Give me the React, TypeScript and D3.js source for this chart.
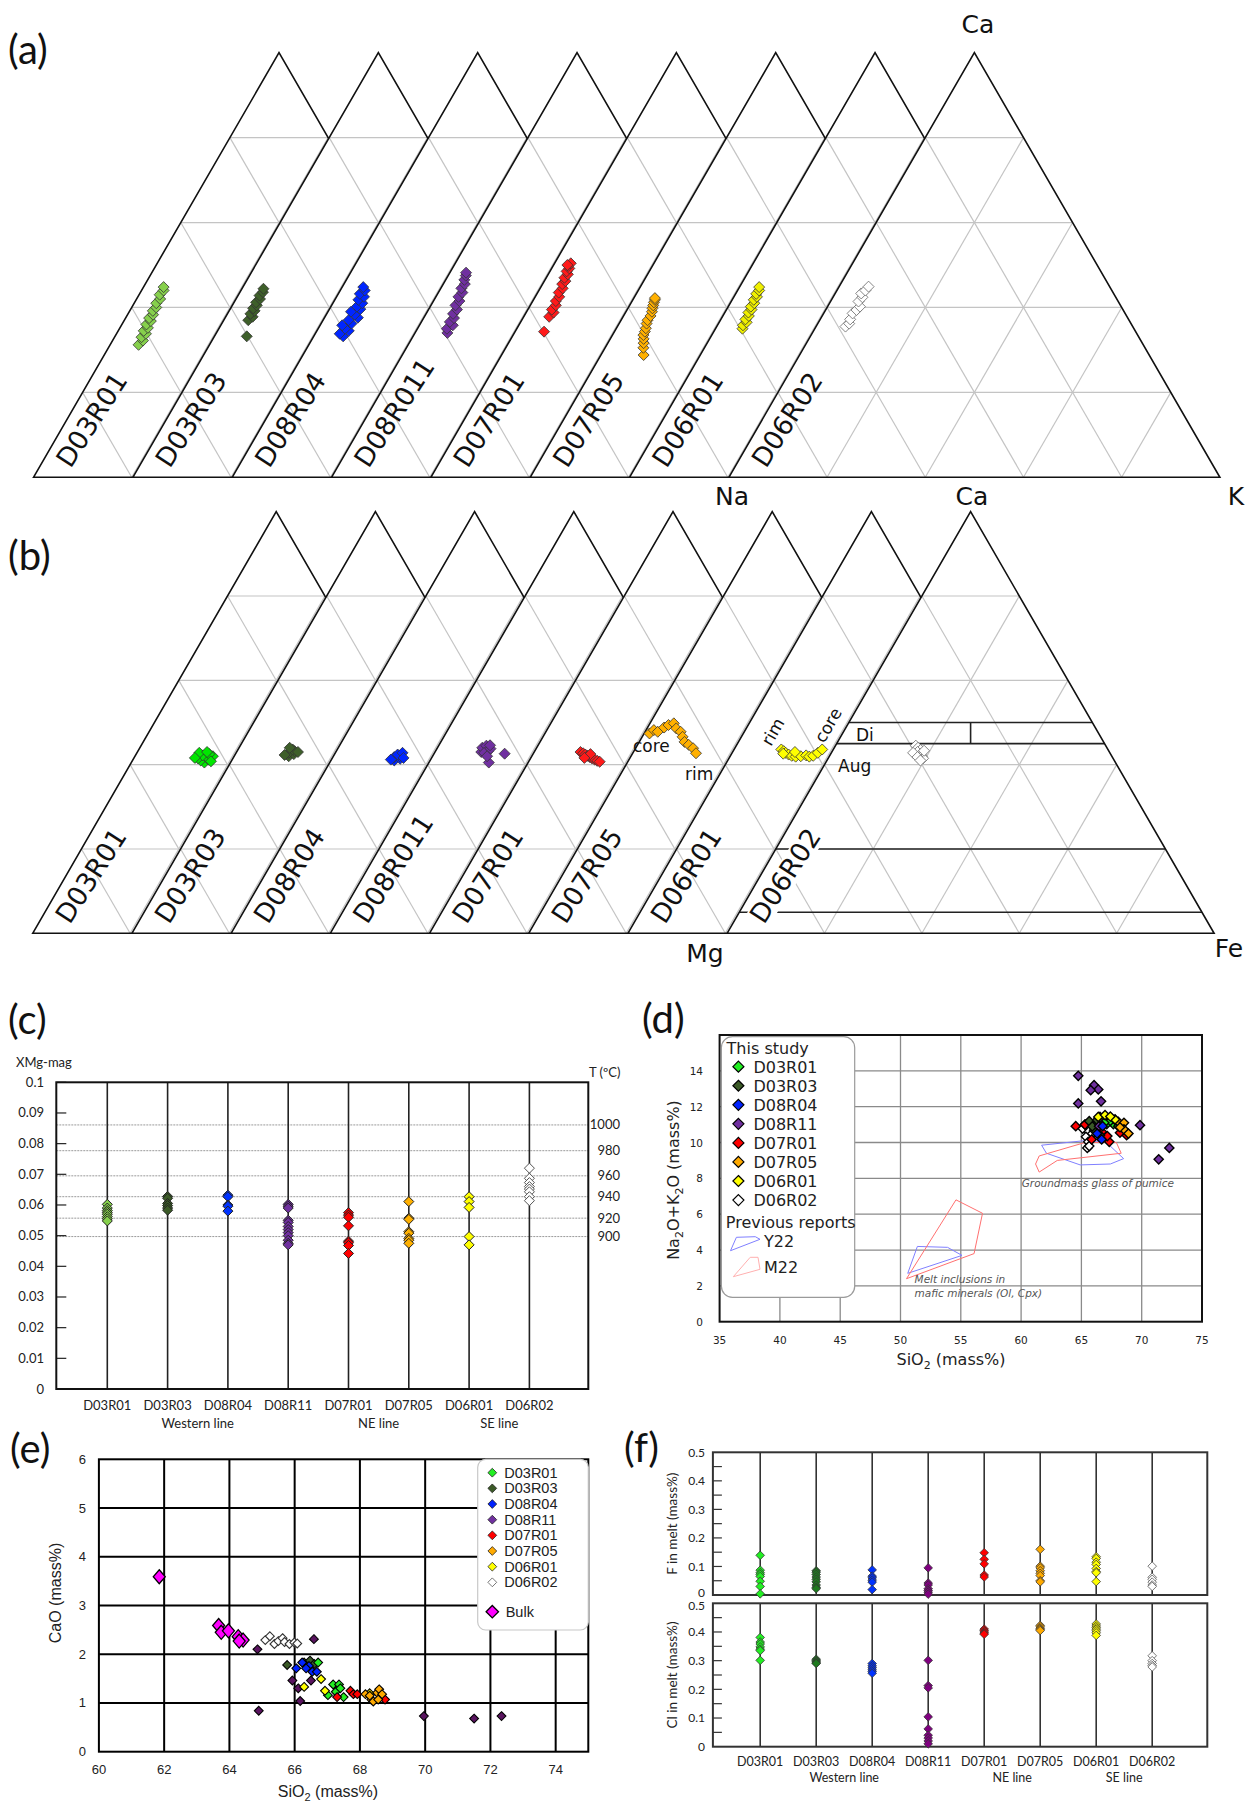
import React from "react";
import * as d3 from "d3";

const W = 1248;
const H = 1803;

// ---------- sample names ----------
const ternaryNames = ["D03R01", "D03R03", "D08R04", "D08R011", "D07R01", "D07R05", "D06R01", "D06R02"];
const stripNames = ["D03R01", "D03R03", "D08R04", "D08R11", "D07R01", "D07R05", "D06R01", "D06R02"];
const groupLabels = ["Western line", "NE line", "SE line"];
const groupBetween = [["D03R03", "D08R04"], ["D07R01", "D07R05"], ["D06R01", "D06R02"]];

// ---------- (a) plagioclase [An, Or] ----------
const plD03R01 = [[0.312, 0.058], [0.322, 0.062], [0.33, 0.055], [0.338, 0.06], [0.345, 0.052], [0.352, 0.057], [0.36, 0.05], [0.368, 0.055], [0.375, 0.048], [0.383, 0.052], [0.392, 0.047], [0.4, 0.05], [0.41, 0.045], [0.42, 0.048], [0.43, 0.042], [0.44, 0.045], [0.448, 0.041]];
const plD03R03 = [[0.332, 0.066], [0.37, 0.05], [0.378, 0.055], [0.385, 0.047], [0.392, 0.052], [0.398, 0.046], [0.405, 0.05], [0.412, 0.045], [0.42, 0.049], [0.428, 0.044], [0.436, 0.047], [0.444, 0.044]];
const plD08R04 = [[0.332, 0.06], [0.338, 0.05], [0.345, 0.065], [0.35, 0.055], [0.358, 0.045], [0.362, 0.062], [0.37, 0.052], [0.376, 0.068], [0.383, 0.058], [0.39, 0.047], [0.396, 0.063], [0.402, 0.053], [0.41, 0.06], [0.418, 0.048], [0.425, 0.056], [0.432, 0.044], [0.44, 0.05], [0.448, 0.043]];
const plD08R11 = [[0.34, 0.066], [0.35, 0.06], [0.358, 0.068], [0.366, 0.058], [0.375, 0.062], [0.385, 0.055], [0.395, 0.058], [0.405, 0.05], [0.415, 0.053], [0.425, 0.046], [0.435, 0.049], [0.445, 0.042], [0.455, 0.044], [0.465, 0.038], [0.475, 0.036], [0.482, 0.033]];
const plD07R01 = [[0.343, 0.059], [0.378, 0.052], [0.388, 0.056], [0.395, 0.049], [0.405, 0.052], [0.415, 0.047], [0.425, 0.049], [0.435, 0.043], [0.445, 0.046], [0.455, 0.04], [0.462, 0.043], [0.47, 0.037], [0.478, 0.04], [0.485, 0.034], [0.492, 0.036], [0.498, 0.031], [0.504, 0.033], [0.5, 0.028]];
const plD07R05 = [[0.288, 0.087], [0.305, 0.078], [0.316, 0.073], [0.326, 0.068], [0.335, 0.063], [0.343, 0.062], [0.351, 0.06], [0.362, 0.056], [0.37, 0.054], [0.38, 0.055], [0.39, 0.053], [0.398, 0.05], [0.405, 0.048], [0.412, 0.046], [0.418, 0.045], [0.422, 0.043]];
const plD06R01 = [[0.35, 0.055], [0.358, 0.052], [0.365, 0.056], [0.372, 0.05], [0.38, 0.053], [0.388, 0.048], [0.395, 0.051], [0.402, 0.046], [0.41, 0.049], [0.418, 0.044], [0.425, 0.047], [0.432, 0.042], [0.44, 0.044], [0.448, 0.04]];
const plD06R02 = [[0.355, 0.06], [0.362, 0.064], [0.372, 0.061], [0.386, 0.059], [0.394, 0.063], [0.402, 0.066], [0.414, 0.057], [0.424, 0.06], [0.433, 0.053], [0.44, 0.058], [0.449, 0.06]];

// ---------- (b) pyroxene [Wo, Fs] ----------
const pxD03R01 = [[0.405, 0.15], [0.41, 0.14], [0.412, 0.155], [0.415, 0.132], [0.418, 0.148], [0.42, 0.16], [0.422, 0.138], [0.425, 0.15], [0.428, 0.128], [0.43, 0.143], [0.408, 0.162], [0.416, 0.125]];
const pxD03R03 = [[0.42, 0.112], [0.425, 0.12], [0.428, 0.108], [0.432, 0.118], [0.436, 0.112], [0.44, 0.104], [0.43, 0.126], [0.423, 0.102]];
const pxD08R04 = [[0.41, 0.13], [0.414, 0.14], [0.418, 0.126], [0.42, 0.136], [0.424, 0.13], [0.428, 0.138], [0.416, 0.146], [0.412, 0.122]];
const pxD08R11 = [[0.43, 0.095], [0.436, 0.1], [0.44, 0.092], [0.445, 0.098], [0.432, 0.108], [0.428, 0.102], [0.438, 0.11], [0.446, 0.105], [0.426, 0.145], [0.405, 0.123], [0.42, 0.112]];
const pxD07R01 = [[0.43, 0.095], [0.427, 0.102], [0.424, 0.108], [0.421, 0.114], [0.418, 0.12], [0.415, 0.126], [0.412, 0.133], [0.409, 0.14], [0.407, 0.146], [0.425, 0.118], [0.416, 0.11]];
const pxD07R05 = [[0.474, 0.011], [0.482, 0.016], [0.478, 0.026], [0.488, 0.034], [0.494, 0.04], [0.498, 0.049], [0.486, 0.06], [0.478, 0.073], [0.466, 0.083], [0.454, 0.093], [0.447, 0.105], [0.439, 0.118], [0.427, 0.13]];
const pxD06R01 = [[0.436, 0.097], [0.432, 0.104], [0.428, 0.11], [0.424, 0.118], [0.421, 0.126], [0.419, 0.135], [0.42, 0.145], [0.422, 0.155], [0.419, 0.163], [0.421, 0.17], [0.428, 0.176], [0.436, 0.181], [0.426, 0.106], [0.43, 0.128]];
const pxD06R02 = [[0.445, 0.165], [0.44, 0.172], [0.435, 0.18], [0.43, 0.176], [0.425, 0.185], [0.42, 0.19], [0.415, 0.195], [0.428, 0.168], [0.433, 0.188], [0.418, 0.182], [0.41, 0.192]];
const wollastoniteLines = [0.5, 0.45, 0.2, 0.05];

// ---------- (c) XMg of magnetite ----------
const cD03R01 = [0.0602, 0.059, 0.0582, 0.0576, 0.057, 0.0562, 0.0555, 0.0548];
const cD03R03 = [0.0628, 0.0622, 0.0605, 0.0598, 0.059, 0.0583];
const cD08R04 = [0.0632, 0.0627, 0.06, 0.0596, 0.058];
const cD08R11 = [0.0602, 0.0596, 0.059, 0.055, 0.0543, 0.053, 0.052, 0.051, 0.05, 0.0485, 0.0475, 0.047];
const cD07R01 = [0.0575, 0.0567, 0.056, 0.0532, 0.0482, 0.0477, 0.0468, 0.0442];
const cD07R05 = [0.0611, 0.0557, 0.0553, 0.0513, 0.0508, 0.0491, 0.0485, 0.0475];
const cD06R01 = [0.0627, 0.0611, 0.0592, 0.0497, 0.047];
const cD06R02 = [0.072, 0.0687, 0.0673, 0.066, 0.0652, 0.0643, 0.0627, 0.0614];
const tempLabels = [1000, 980, 960, 940, 920, 900];
const tempXMg = [0.0861, 0.0777, 0.0695, 0.0627, 0.0557, 0.0497];

// ---------- (d) TAS [SiO2, Na2O+K2O] ----------
const dD03R01 = [[67.23, 11.34], [67.65, 11.03], [67.1, 11.03], [68.06, 10.91], [67.4, 11.2], [67.8, 11.25], [66.9, 11.1]];
const dD03R03 = [[65.65, 11.19], [66.13, 11.0], [66.54, 11.43], [66.05, 10.69], [66.54, 10.41], [65.9, 10.9], [66.3, 11.25], [66.8, 11.2]];
const dD08R04 = [[66.68, 10.17], [66.76, 10.91], [66.3, 10.5]];
const dD08R11 = [[64.74, 13.72], [66.05, 13.2], [66.4, 12.96], [65.77, 12.92], [64.74, 12.18], [66.63, 12.3], [69.86, 10.97], [72.29, 9.7], [71.41, 9.06], [66.46, 10.91]];
const dD07R01 = [[64.53, 10.91], [67.31, 10.04], [67.15, 10.36], [68.75, 10.41], [68.2, 10.55], [65.85, 10.17], [65.3, 11.0], [66.7, 10.6]];
const dD07R05 = [[68.06, 11.15], [68.53, 11.1], [68.53, 10.73], [68.9, 10.5], [68.2, 10.85]];
const dD06R01 = [[66.4, 11.43], [66.96, 11.53], [67.79, 11.29], [67.4, 11.45]];
const dD06R02 = [[65.49, 10.69], [65.38, 10.32], [65.57, 10.04], [65.49, 9.7], [65.65, 9.8], [65.1, 10.78], [65.9, 10.5], [65.3, 11.0]];
const y22Glass = [[61.7, 9.85], [65.2, 10.1], [67.0, 10.05], [68.5, 9.1], [67.4, 8.8], [64.9, 8.75], [62.1, 9.4]];
const m22Glass = [[61.2, 8.8], [61.5, 8.35], [63.0, 9.0], [68.3, 9.4], [67.9, 10.0], [65.3, 10.0], [61.5, 9.25]];
const y22Melt = [[50.6, 2.7], [51.4, 4.2], [53.9, 4.15], [55.1, 3.7]];
const m22Melt = [[50.5, 2.4], [54.6, 6.8], [56.8, 6.05], [56.1, 3.8]];

// ---------- (e) CaO vs SiO2 ----------
const eBulk = [[61.85, 3.59], [63.67, 2.59], [63.75, 2.45], [63.97, 2.48], [64.27, 2.36], [64.42, 2.29], [64.3, 2.27]];
const eD06R02 = [[65.1, 2.29], [65.24, 2.37], [65.38, 2.21], [65.5, 2.27], [65.63, 2.33], [65.69, 2.25], [65.84, 2.21], [65.99, 2.24], [66.08, 2.22]];
const eD08R11 = [[64.86, 2.1], [66.59, 2.31], [65.93, 1.46], [66.11, 1.3], [66.5, 1.46], [66.17, 1.04], [64.9, 0.84], [69.96, 0.73], [71.5, 0.68], [72.34, 0.73]];
const eD03R03 = [[65.77, 1.78], [66.29, 1.83], [66.47, 1.87], [66.6, 1.8]];
const eD08R04 = [[66.05, 1.71], [66.23, 1.83], [66.44, 1.76], [66.54, 1.64], [66.68, 1.64], [66.35, 1.71]];
const eD03R01 = [[66.72, 1.83], [67.18, 1.38], [67.36, 1.38], [67.02, 1.16], [67.26, 1.23], [67.5, 1.12], [67.4, 1.3]];
const eD06R01 = [[66.81, 1.49], [66.29, 1.33], [66.93, 1.25], [68.3, 1.2]];
const eD07R01 = [[67.71, 1.25], [67.8, 1.18], [67.92, 1.18], [67.3, 1.12], [68.77, 1.07]];
const eD07R05 = [[68.17, 1.18], [68.35, 1.07], [68.53, 1.21], [68.59, 1.28], [68.68, 1.18], [68.41, 1.03], [68.56, 1.07], [68.3, 1.15]];

// ---------- (f) F and Cl in melt ----------
const fF = [
  [0.139, 0.087, 0.078, 0.072, 0.065, 0.048, 0.03, 0.004],
  [0.085, 0.08, 0.072, 0.063, 0.055, 0.046, 0.035, 0.027, 0.022],
  [0.088, 0.066, 0.06, 0.052, 0.045, 0.019],
  [0.095, 0.042, 0.035, 0.022, 0.016, 0.01, 0.003],
  [0.148, 0.125, 0.109, 0.07, 0.063],
  [0.16, 0.101, 0.095, 0.085, 0.076, 0.068, 0.05, 0.046],
  [0.134, 0.128, 0.115, 0.107, 0.093, 0.082, 0.078, 0.047],
  [0.101, 0.062, 0.055, 0.045, 0.035, 0.03],
];
const fCl = [
  [0.381, 0.365, 0.358, 0.348, 0.34, 0.335, 0.301],
  [0.305, 0.3, 0.296, 0.292, 0.29],
  [0.29, 0.282, 0.275, 0.268, 0.262, 0.256],
  [0.301, 0.213, 0.205, 0.104, 0.062, 0.04, 0.03, 0.02, 0.01],
  [0.41, 0.405, 0.4, 0.396, 0.392],
  [0.423, 0.418, 0.413, 0.409, 0.405],
  [0.428, 0.421, 0.415, 0.41, 0.404, 0.397, 0.388],
  [0.317, 0.3, 0.29, 0.283, 0.278],
];

// ---------- colours ----------
const colA = ["#86d04c", "#3e5f2a", "#0026ff", "#7030a0", "#ff1a1a", "#ffb000", "#f0f000", "#ffffff"];
const colB = ["#00e600", "#3e5f2a", "#0026ff", "#7030a0", "#ff1a1a", "#ffb000", "#ffff00", "#ffffff"];
const colC = ["#86d04c", "#3b5a27", "#0033ff", "#7030a0", "#ff0000", "#ffb000", "#ffff00", "#ffffff"];
const colD = ["#22ee22", "#3b5a27", "#0022ff", "#7030a0", "#ff0000", "#ffaa00", "#ffff00", "#ffffff"];
const colF = ["#22ee22", "#1f7a1f", "#0033ff", "#800080", "#ff0000", "#ffaa00", "#ffff00", "#ffffff"];

const diamond = (r: number, ry: number = r) => `M0,${-ry}L${r},0L0,${ry}L${-r},0Z`;
const pts = (a: number[][]) => a.map((p) => p.join(",")).join(" ");

function Ternary({ top, base, x0, step, side, data, colors, pyx }: any) {
  const ys = d3.scaleLinear().domain([0, 1]).range([base, top]);
  const levels = [0.2, 0.4, 0.6, 0.8];
  return (
    <g>
      {ternaryNames.map((name, k) => {
        const xs = d3.scaleLinear().domain([0, 1]).range([x0 + k * step, x0 + k * step + side]);
        const pt = (c: number, r: number) => [xs(r + c / 2), ys(c)];
        const grid: number[][][] = [];
        levels.forEach((t) => {
          grid.push([pt(t, 0), pt(t, 1 - t)]);
          grid.push([pt(0, t), pt(1 - t, t)]);
          grid.push([pt(0, 1 - t), pt(1 - t, 0)]);
        });
        const last = k === ternaryNames.length - 1;
        return (
          <g key={name}>
            <polygon points={pts([pt(0, 0), pt(1, 0), pt(0, 1)])} fill="#fff" />
            {grid.map((g, i) => (
              <line key={i} x1={g[0][0]} y1={g[0][1]} x2={g[1][0]} y2={g[1][1]} stroke="#c4c4c4" strokeWidth={1.2} />
            ))}
            {pyx && last && (
              <g stroke="#222" strokeWidth={1.6}>
                {wollastoniteLines.map((w) => (
                  <line key={w} x1={pt(w, 0)[0]} y1={ys(w)} x2={pt(w, 1 - w)[0]} y2={ys(w)} />
                ))}
                <line x1={xs(0.5)} x2={xs(0.5)} y1={ys(0.45)} y2={ys(0.5)} />
              </g>
            )}
            <polygon points={pts([pt(0, 0), pt(1, 0), pt(0, 1)])} fill="none" stroke="#111" strokeWidth={1.6} />
            <g transform={`translate(${xs(0) + 37},${base - 8}) rotate(-57)`}>
              {pyx && last && <rect x={-2} y={-21} width={110} height={25} fill="#fff" />}
              <text fontSize={26.5} fill="#111">{name}</text>
            </g>
            {data[k].map((p: number[], i: number) => {
              const [x, y] = pt(p[0], p[1]);
              return (
                <path key={i} transform={`translate(${x},${y})`} d={diamond(5.5)} fill={colors[k]}
                  stroke={last ? "#666" : "#333"} strokeWidth={0.8} />
              );
            })}
          </g>
        );
      })}
    </g>
  );
}

function PanelC() {
  const L = 56.3, R = 588.3, T = 1082.3, B = 1389;
  const x = d3.scalePoint<string>().domain(stripNames).range([107.3, 529.4]);
  const y = d3.scaleLinear().domain([0, 0.1]).range([B, T]);
  const data = [cD03R01, cD03R03, cD08R04, cD08R11, cD07R01, cD07R05, cD06R01, cD06R02];
  const ticks = d3.range(0, 11).map((i) => i / 100);
  return (
    <g fontFamily="Lato" fontSize={13} fill="#222">
      {tempXMg.map((v, i) => (
        <g key={i}>
          <line x1={L} x2={R} y1={y(v)} y2={y(v)} stroke="#9a9a9a" strokeWidth={1} strokeDasharray="2,1" />
          <text x={620} y={y(v) + 4.5} textAnchor="end">{tempLabels[i]}</text>
        </g>
      ))}
      {stripNames.map((n) => (
        <line key={n} x1={x(n)} x2={x(n)} y1={T} y2={B} stroke="#222" strokeWidth={1.6} />
      ))}
      {ticks.map((v) => (
        <g key={v}>
          <line x1={L} x2={L + 10} y1={y(v)} y2={y(v)} stroke="#222" strokeWidth={1.2} />
          <text x={44} y={y(v) + 4.5} textAnchor="end">{v === 0 ? "0" : v === 0.1 ? "0.1" : v.toFixed(2)}</text>
        </g>
      ))}
      <rect x={L} y={T} width={R - L} height={B - T} fill="none" stroke="#111" strokeWidth={2} />
      {data.map((arr, k) =>
        arr.map((v, i) => (
          <path key={k + "-" + i} transform={`translate(${x(stripNames[k])},${y(v)})`} d={diamond(5)}
            fill={colC[k]} stroke={k === 7 ? "#555" : "#222"} strokeWidth={1} />
        ))
      )}
      <text x={16} y={1067}>XMg-mag</text>
      <text x={589} y={1077}>T (ºC)</text>
      {stripNames.map((n) => (
        <text key={n} x={x(n)} y={1410} textAnchor="middle">{n}</text>
      ))}
      {groupLabels.map((g, i) => (
        <text key={g} x={((x(groupBetween[i][0]) as number) + (x(groupBetween[i][1]) as number)) / 2} y={1428} textAnchor="middle">{g}</text>
      ))}
    </g>
  );
}

function PanelD() {
  const L = 719.6, R = 1202, T = 1035, B = 1321.7;
  const x = d3.scaleLinear().domain([35, 75]).range([L, R]);
  const y = d3.scaleLinear().domain([0, 16]).range([B, T]);
  const data = [dD03R01, dD03R03, dD08R04, dD08R11, dD07R01, dD07R05, dD06R01, dD06R02];
  const order = [7, 4, 1, 3, 0, 5, 6, 2];
  const poly = (a: number[][]) => a.map((p) => [x(p[0]), y(p[1])]);
  const legY = d3.range(8).map((i) => 1066.7 + i * 19.05);
  return (
    <g fontFamily="DejaVu Sans" fill="#222">
      {d3.range(40, 75, 5).map((v) => (
        <line key={v} x1={x(v)} x2={x(v)} y1={T} y2={B} stroke="#8a8a8a" strokeWidth={1.3} />
      ))}
      {d3.range(2, 16, 2).map((v) => (
        <line key={v} x1={L} x2={R} y1={y(v)} y2={y(v)} stroke="#8a8a8a" strokeWidth={1.3} />
      ))}
      <polygon points={pts(poly(y22Glass))} fill="none" stroke="#8080ff" strokeWidth={1} />
      <polygon points={pts(poly(m22Glass))} fill="none" stroke="#ff7070" strokeWidth={1} />
      <polygon points={pts(poly(y22Melt))} fill="none" stroke="#8080ff" strokeWidth={1} />
      <polygon points={pts(poly(m22Melt))} fill="none" stroke="#ff7070" strokeWidth={1} />
      <rect x={L} y={T} width={R - L} height={B - T} fill="none" stroke="#111" strokeWidth={2} />
      {order.map((k) =>
        data[k].map((p, i) => (
          <path key={k + "-" + i} transform={`translate(${x(p[0])},${y(p[1])})`} d={diamond(4.6)}
            fill={colD[k]} stroke="#000" strokeWidth={1.4} />
        ))
      )}
      <g fontSize={10.5} fontStyle="italic" fill="#555">
        <text x={1021.7} y={1187}>Groundmass glass of pumice</text>
        <text x={914.6} y={1283}>Melt inclusions in</text>
        <text x={914.6} y={1296.5}>mafic minerals (Ol, Cpx)</text>
      </g>
      {d3.range(35, 80, 5).map((v) => (
        <text key={v} x={x(v)} y={1344} fontSize={10.5} textAnchor="middle">{v}</text>
      ))}
      {d3.range(0, 16, 2).map((v) => (
        <text key={v} x={703} y={y(v) + 4} fontSize={10.5} textAnchor="end">{v}</text>
      ))}
      <text x={951} y={1365} fontSize={16} textAnchor="middle">
        SiO<tspan fontSize={11} dy={4}>2</tspan><tspan dy={-4}> (mass%)</tspan>
      </text>
      <text transform="translate(679,1180) rotate(-90)" fontSize={16} textAnchor="middle">
        Na<tspan fontSize={11} dy={4}>2</tspan><tspan dy={-4}>O+K</tspan><tspan fontSize={11} dy={4}>2</tspan><tspan dy={-4}>O (mass%)</tspan>
      </text>
      <rect x={721.4} y={1036.7} width={133.3} height={260.6} rx={11} fill="#fff" stroke="#9a9a9a" strokeWidth={1.2} />
      <g fontSize={16}>
        <text x={726.6} y={1054}>This study</text>
        {stripNames.map((n, i) => (
          <g key={n}>
            <path transform={`translate(738.4,${legY[i]})`} d={diamond(5.5)} fill={colD[i]} stroke="#000" strokeWidth={1.2} />
            <text x={753.4} y={legY[i] + 6}>{n}</text>
          </g>
        ))}
        <text x={725.8} y={1227.5}>Previous reports</text>
        <polygon points="730.5,1250.7 760,1239.3 755.3,1236.7 736.4,1237.3" fill="none" stroke="#8080ff" strokeWidth={1} />
        <text x={764} y={1247}>Y22</text>
        <polygon points="733.3,1276.7 760,1269.3 758,1257.3 750.2,1257.3" fill="none" stroke="#ffb0b0" strokeWidth={1} />
        <text x={764} y={1273}>M22</text>
      </g>
    </g>
  );
}

function PanelE() {
  const L = 98.9, R = 588.3, T = 1459.3, B = 1751.7;
  const x = d3.scaleLinear().domain([60, 75]).range([L, R]);
  const y = d3.scaleLinear().domain([0, 6]).range([B, T]);
  const series = [eD08R11, eD06R02, eD03R03, eD08R04, eD03R01, eD06R01, eD07R01, eD07R05];
  const seriesCol = ["#5a1460", "#ffffff", "#3b5a27", "#0022ff", "#22ee22", "#ffff00", "#ff0000", "#ffaa00"];
  const legY = d3.range(8).map((i) => 1472.7 + i * 15.66);
  return (
    <g fontFamily="Liberation Sans" fill="#222">
      {d3.range(62, 75, 2).map((v) => (
        <line key={v} x1={x(v)} x2={x(v)} y1={T} y2={B} stroke="#000" strokeWidth={2} />
      ))}
      {d3.range(1, 6).map((v) => (
        <line key={v} x1={L} x2={R} y1={y(v)} y2={y(v)} stroke="#000" strokeWidth={2} />
      ))}
      <rect x={L} y={T} width={R - L} height={B - T} fill="none" stroke="#000" strokeWidth={2} />
      {series.map((arr, k) =>
        arr.map((p, i) => (
          <path key={k + "-" + i} transform={`translate(${x(p[0])},${y(p[1])})`} d={diamond(4.4)}
            fill={seriesCol[k]} stroke={k === 1 ? "#333" : "#000"} strokeWidth={1.1} />
        ))
      )}
      {eBulk.map((p, i) => (
        <path key={"b" + i} transform={`translate(${x(p[0])},${y(p[1])})`} d={diamond(6, 7)}
          fill="#ff00ff" stroke="#000" strokeWidth={1.3} />
      ))}
      {d3.range(60, 76, 2).map((v) => (
        <text key={v} x={x(v)} y={1773.5} fontSize={13} textAnchor="middle">{v}</text>
      ))}
      {d3.range(0, 7).map((v) => (
        <text key={v} x={86} y={y(v) + 4.5} fontSize={13} textAnchor="end">{v}</text>
      ))}
      <text x={328} y={1797} fontSize={16} textAnchor="middle">
        SiO<tspan fontSize={11} dy={4}>2</tspan><tspan dy={-4}> (mass%)</tspan>
      </text>
      <text transform="translate(61,1593) rotate(-90)" fontSize={16} textAnchor="middle">CaO (mass%)</text>
      <rect x={477.7} y={1459.3} width={110.6} height={170.7} rx={8} fill="#fff" stroke="#c8c8c8" strokeWidth={1.2} />
      <g fontSize={14.5}>
        {stripNames.map((n, i) => (
          <g key={n}>
            <path transform={`translate(492.3,${legY[i]})`} d={diamond(4.4)} fill={colD[i]} stroke={i === 7 ? "#555" : "#222"} strokeWidth={0.8} />
            <text x={504.3} y={legY[i] + 5}>{n}</text>
          </g>
        ))}
        <path transform="translate(492.3,1611.7)" d={diamond(6.2)} fill="#ff00ff" stroke="#000" strokeWidth={1.3} />
        <text x={505.7} y={1616.7}>Bulk</text>
      </g>
    </g>
  );
}

function StripPanel({ T, B, data, title, lowShift, highShift }: any) {
  const L = 712.9, R = 1207.3;
  const x = d3.scalePoint<string>().domain(stripNames).range([760.2, 1152.2]);
  const y = d3.scaleLinear().domain([0, 0.5]).range([B, T]);
  return (
    <g>
      {stripNames.map((n) => (
        <line key={n} x1={x(n)} x2={x(n)} y1={T} y2={B} stroke="#333" strokeWidth={1.6} />
      ))}
      {d3.range(1, 10).map((i) => (
        <line key={i} x1={L} x2={L + 9} y1={y(i * 0.05)} y2={y(i * 0.05)} stroke="#333" strokeWidth={1.2} />
      ))}
      {d3.range(0, 6).map((i) => (
        <text key={i} x={705} y={y(i / 10) + 4.2 + (i === 0 ? lowShift : i === 5 ? highShift : 0)} textAnchor="end">
          {i === 0 ? "0" : (i / 10).toFixed(1)}
        </text>
      ))}
      <rect x={L} y={T} width={R - L} height={B - T} fill="none" stroke="#333" strokeWidth={2} />
      {data.map((arr: number[], k: number) =>
        arr.map((v, i) => (
          <path key={k + "-" + i} transform={`translate(${x(stripNames[k])},${y(v)})`} d={diamond(4.3)}
            fill={colF[k]} stroke={k === 7 ? "#555" : "#333"} strokeWidth={0.8} />
        ))
      )}
      <text transform={`translate(677,${(T + B) / 2}) rotate(-90)`} fontSize={13.5} textAnchor="middle">{title}</text>
    </g>
  );
}

function PanelF() {
  const x = d3.scalePoint<string>().domain(stripNames).range([760.2, 1152.2]);
  return (
    <g fontFamily="Lato" fontSize={12} fill="#222">
      <StripPanel T={1452.3} B={1595} data={fF} title="F in melt (mass%)" lowShift={-2} highShift={0} />
      <StripPanel T={1603.3} B={1746.7} data={fCl} title="Cl in melt (mass%)" lowShift={0} highShift={2.5} />
      {stripNames.map((n) => (
        <text key={n} x={x(n)} y={1766} textAnchor="middle" fontSize={12.5}>{n}</text>
      ))}
      {groupLabels.map((g, i) => (
        <text key={g} x={((x(groupBetween[i][0]) as number) + (x(groupBetween[i][1]) as number)) / 2} y={1782} textAnchor="middle" fontSize={12.5}>{g}</text>
      ))}
    </g>
  );
}

export default function App() {
  const panel = { fontFamily: "Lato", fontSize: 40, fill: "#111" };
  return (
    <svg width={W} height={H} style={{ position: "absolute", left: 0, top: 0, background: "#fff" }} fontFamily="DejaVu Sans">
      <rect width={W} height={H} fill="#fff" />
      {/* (a) feldspar */}
      <Ternary top={52.7} base={477.3} x0={33.5} step={99.34} side={491}
        data={[plD03R01, plD03R03, plD08R04, plD08R11, plD07R01, plD07R05, plD06R01, plD06R02]} colors={colA} />
      {/* (b) pyroxene */}
      <Ternary top={511.7} base={933.3} x0={32.7} step={99.2} side={487} pyx
        data={[pxD03R01, pxD03R03, pxD08R04, pxD08R11, pxD07R01, pxD07R05, pxD06R01, pxD06R02]} colors={colB} />
      <g fontSize={25} fill="#111" textAnchor="middle">
        <text x={978} y={33}>Ca</text>
        <text x={732} y={505}>Na</text>
        <text x={972} y={505}>Ca</text>
        <text x={1236} y={505}>K</text>
        <text x={705} y={962}>Mg</text>
        <text x={1229} y={957}>Fe</text>
      </g>
      <g fontSize={17} fill="#111">
        <text x={633} y={752}>core</text>
        <text x={685} y={780}>rim</text>
        <text x={856} y={741}>Di</text>
        <text x={838} y={772}>Aug</text>
        <text transform="translate(771,747) rotate(-60)">rim</text>
        <text transform="translate(824,744) rotate(-60)">core</text>
      </g>
      <PanelC />
      <PanelD />
      <PanelE />
      <PanelF />
      <g {...panel}>
        <text x={8} y={64}>(a)</text>
        <text x={8} y={570}>(b)</text>
        <text x={8} y={1034}>(c)</text>
        <text x={642} y={1033}>(d)</text>
        <text x={10} y={1463}>(e)</text>
        <text x={624} y={1462}>(f)</text>
      </g>
    </svg>
  );
}
